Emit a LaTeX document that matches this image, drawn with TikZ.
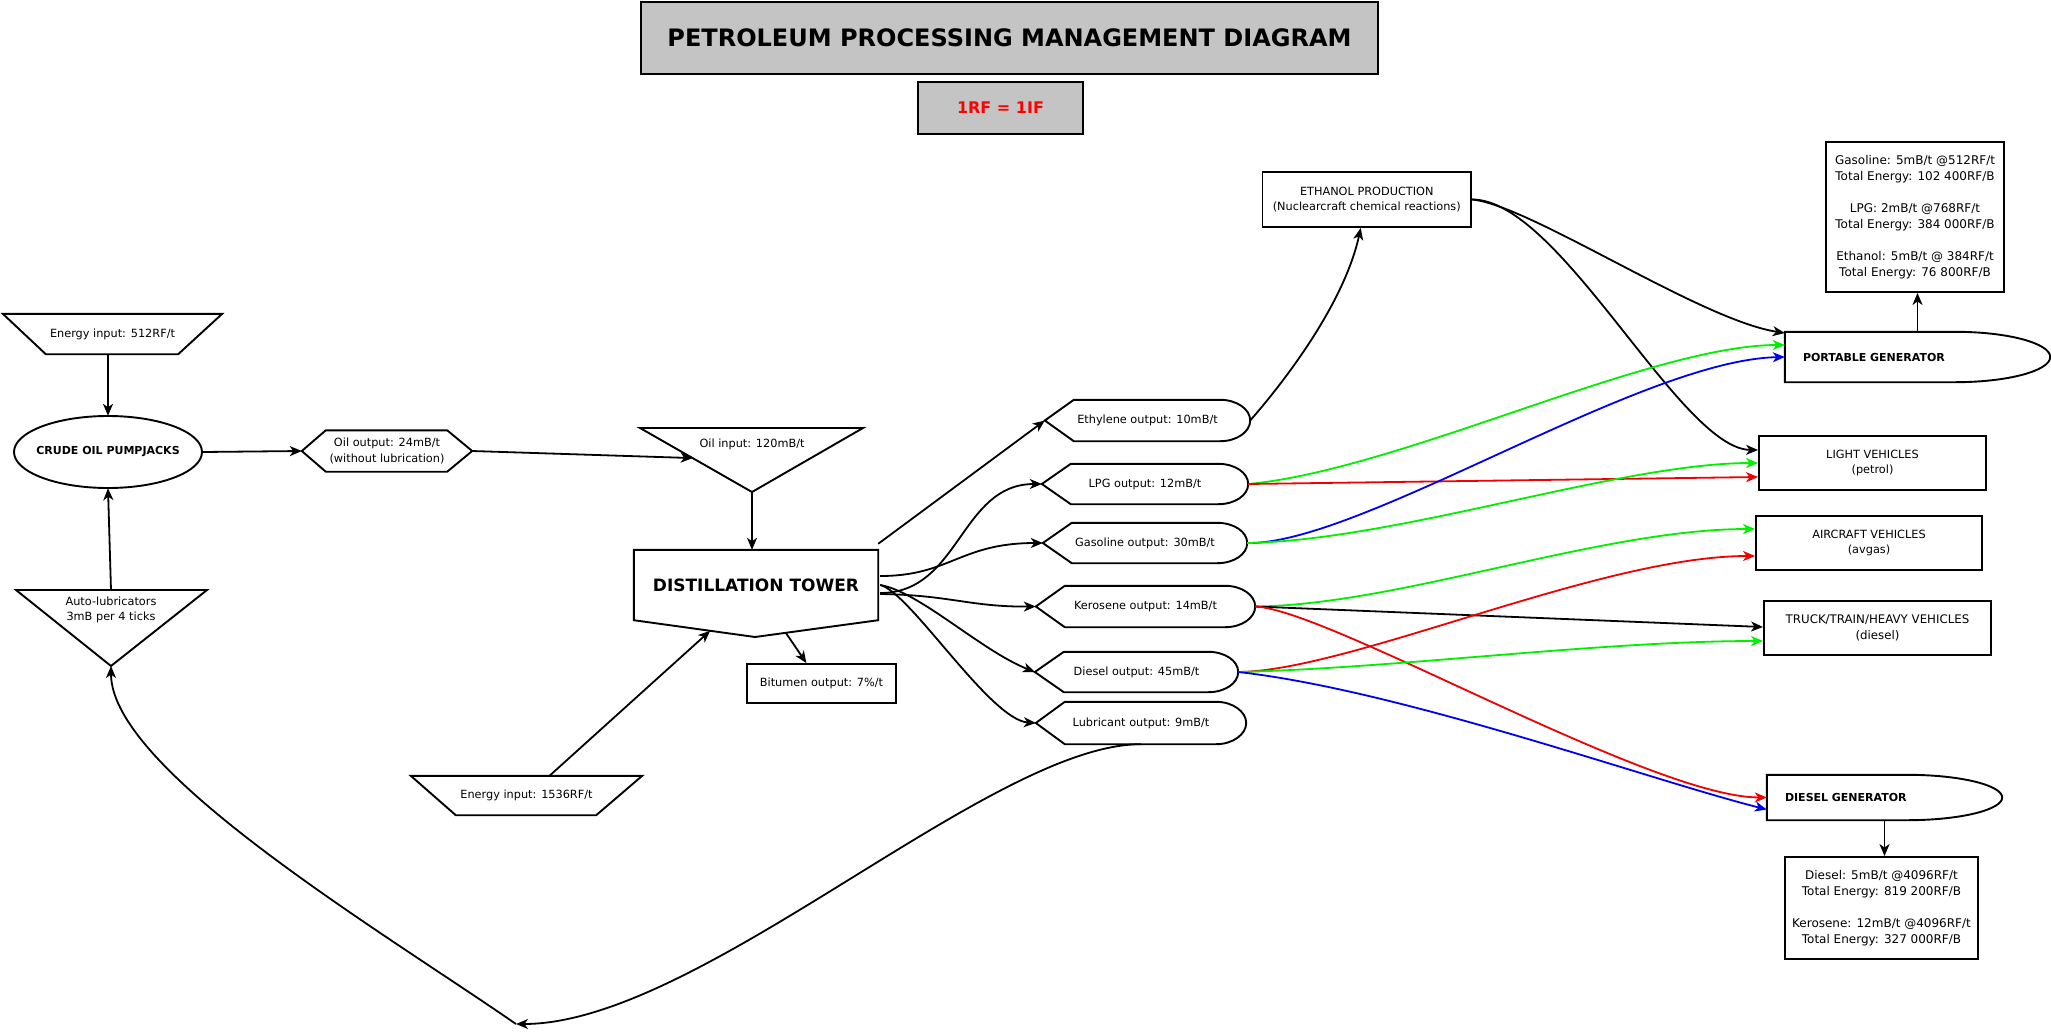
\documentclass[tikz,border=0pt]{standalone}
\usepackage{fontspec}
\setmainfont{DejaVu Sans}
\usetikzlibrary{calc,arrows.meta,shapes.geometric}
\definecolor{titlegray}{RGB}{196,196,196}
\definecolor{lgreen}{RGB}{0,240,0}
\definecolor{lblue}{RGB}{0,0,240}
\definecolor{lred}{RGB}{240,0,0}
\newcommand{\DispOutline}[1]{\draw[shp] (#1.west) -- ($(#1.north west)+(29,0)$) -- ($(#1.north east)+(-30,0)$) .. controls ($(#1.north east)+(-13.4,0)$) and ($(#1.east)+(0,-11.3)$) .. (#1.east) .. controls ($(#1.east)+(0,11.3)$) and ($(#1.south east)+(-13.4,0)$) .. ($(#1.south east)+(-30,0)$) -- ($(#1.south west)+(29,0)$) -- cycle;}
\newcommand{\GenOutline}[3]{\draw[shp] (#1.north west) -- ($(#1.north east)+(-#2,0)$) .. controls ($(#1.north east)+({-0.4477*#2},0)$) and ($(#1.east)+(0,-#3)$) .. (#1.east) .. controls ($(#1.east)+(0,#3)$) and ($(#1.south east)+({-0.4477*#2},0)$) .. ($(#1.south east)+(-#2,0)$) -- (#1.south west) -- cycle;}
\tikzset{
  shp/.style={line width=1.9pt, line join=miter},
  plain/.style={inner sep=0pt, align=center},
  box/.style={draw, line width=1.9pt, rectangle, inner sep=0pt, align=center},
  boldlbl/.style={font=\fontsize{11}{13}\selectfont\bfseries},
  infofont/.style={font=\fontsize{12}{16}\selectfont},
  arr/.style={line width=1.8pt, -{Stealth[length=12pt,width=10pt,inset=3.5pt]}},
  gr/.style={draw=lgreen, -{Stealth[length=12pt,width=10pt,inset=3.5pt,fill=lgreen]}},
  bl/.style={draw=lblue},
  rd/.style={draw=lred},
}
\begin{document}
\begin{tikzpicture}[x=1pt,y=-1pt, font=\fontsize{11.3}{15.5}\selectfont]
\useasboundingbox[fill=white] (0,0) rectangle (2051,1031);

% title
\node[box, fill=titlegray, minimum width=737, minimum height=72, font=\fontsize{24}{28}\selectfont\bfseries] (title) at (1009.5,38) {PETROLEUM PROCESSING MANAGEMENT DIAGRAM};
\node[box, fill=titlegray, minimum width=165, minimum height=52, text=red, font=\fontsize{16}{19}\selectfont\bfseries] (rf) at (1000.5,108) {1RF = 1IF};

% left part
\node[plain, minimum width=219, minimum height=40] (e512) at (112.5,334) {Energy input: 512RF/t};
\draw[shp] (e512.north west) -- (e512.north east) -- ($(e512.south east)+(-44,0)$) -- ($(e512.south west)+(43,0)$) -- cycle;

\node[plain, minimum width=188, minimum height=72, boldlbl] (pump) at (108,452) {CRUDE OIL PUMPJACKS};
\draw[shp] (pump.center) ellipse [x radius=94, y radius=36];

\node[plain, minimum width=170, minimum height=41] (oilout) at (387,451) {Oil output: 24mB/t\\(without lubrication)};
\draw[shp] (oilout.west) -- ($(oilout.north west)+(24,0)$) -- ($(oilout.north east)+(-25,0)$) -- (oilout.east) -- ($(oilout.south east)+(-25,0)$) -- ($(oilout.south west)+(24,0)$) -- cycle;

\coordinate (oilinL) at (640,428);
\coordinate (oilinR) at (863,428);
\coordinate (oilintip) at (752,492);
\draw[shp] (oilinL) -- (oilinR) -- (oilintip) -- cycle;
\node[plain] (oilin) at (752,444) {Oil input: 120mB/t};

\coordinate (alL) at (16,590);
\coordinate (alR) at (207,590);
\coordinate (altip) at (111,666);
\draw[shp] (alL) -- (alR) -- (altip) -- cycle;
\node[plain] (autolub) at (111,610) {Auto-lubricators\\3mB per 4 ticks};

% tower
\node[plain, minimum width=244, minimum height=70, font=\fontsize{17}{20}\selectfont\bfseries] (tower) at (756,585) {DISTILLATION TOWER};
\coordinate (towtip) at (755,637);
\draw[shp] (tower.south west) -- (tower.north west) -- (tower.north east) -- (tower.south east) -- (towtip) -- cycle;

\node[box, minimum width=149, minimum height=39] (bit) at (821.5,683.5) {Bitumen output: 7\%/t};

\node[plain, minimum width=231, minimum height=39] (e1536) at (526.5,795.5) {Energy input: 1536RF/t};
\draw[shp] (e1536.north west) -- (e1536.north east) -- ($(e1536.south east)+(-46,0)$) -- ($(e1536.south west)+(45,0)$) -- cycle;

% outputs
\node[plain, minimum width=205, minimum height=41] (ethy) at (1147.5,420.5) {Ethylene output: 10mB/t};
\DispOutline{ethy}
\node[plain, minimum width=206, minimum height=40] (lpg) at (1145,484) {LPG output: 12mB/t};
\DispOutline{lpg}
\node[plain, minimum width=204, minimum height=40] (gas) at (1145,543) {Gasoline output: 30mB/t};
\DispOutline{gas}
\node[plain, minimum width=219, minimum height=41] (kero) at (1145.5,606.5) {Kerosene output: 14mB/t};
\DispOutline{kero}
\node[plain, minimum width=203, minimum height=40] (dies) at (1136.5,672) {Diesel output: 45mB/t};
\DispOutline{dies}
\node[plain, minimum width=210, minimum height=42] (lub) at (1141,723) {Lubricant output: 9mB/t};
\DispOutline{lub}

% right side
\node[box, minimum width=208.5, minimum height=55] (eth) at (1366.75,199.5) {ETHANOL PRODUCTION\\(Nuclearcraft chemical reactions)};

\node[plain, minimum width=265, minimum height=50, text width=229, inner xsep=18pt, align=left, boldlbl] (pg) at (1917.5,357) {PORTABLE GENERATOR};
\GenOutline{pg}{95}{13.8}

\node[box, infofont, minimum width=178, minimum height=150] (pginfo) at (1915,217) {Gasoline: 5mB/t @512RF/t\\Total Energy: 102 400RF/B\\[16pt]LPG: 2mB/t @768RF/t\\Total Energy: 384 000RF/B\\[16pt]Ethanol: 5mB/t @ 384RF/t\\Total Energy: 76 800RF/B};

\node[box, minimum width=227, minimum height=54] (lv) at (1872.5,463) {LIGHT VEHICLES\\(petrol)};
\node[box, minimum width=226, minimum height=54] (ac) at (1869,543) {AIRCRAFT VEHICLES\\(avgas)};
\node[box, minimum width=227, minimum height=54, font=\fontsize{11.8}{15.5}\selectfont] (tr) at (1877.5,628) {TRUCK/TRAIN/HEAVY VEHICLES\\(diesel)};

\node[plain, minimum width=235, minimum height=45, text width=199, inner xsep=18pt, align=left, boldlbl] (dg) at (1884.5,797.5) {DIESEL GENERATOR};
\GenOutline{dg}{95}{12.4}

\node[box, infofont, minimum width=193, minimum height=102] (dginfo) at (1881.5,908) {Diesel: 5mB/t @4096RF/t\\Total Energy: 819 200RF/B\\[16pt]Kerosene: 12mB/t @4096RF/t\\Total Energy: 327 000RF/B};

% connectors left
\draw[arr] (pump.north |- e512.south) -- (pump.north);
\draw[arr] (autolub.north |- alL) -- (pump.south);
\draw[arr] (pump.east) -- (oilout.west);
\draw[arr] (oilout.east) -- ($(oilinL)!0.47!(oilintip)$);
\draw[arr] (oilintip) -- (oilintip |- tower.north);
\draw[arr] ($(e1536.north)+(23,0)$) -- ($(tower.south west)!0.63!(towtip)$);
\draw[arr] ($(towtip)!0.25!(tower.south east)$) -- ($(bit.north west)!0.4!(bit.north east)$);

% tower to outputs
\draw[arr] ($(tower.north east)+(0,-6)$) -- (ethy.west);
\draw[arr] ($(tower.east)+(2,8)$) .. controls (960,593) and (960,484) .. (lpg.west);
\draw[arr] ($(tower.east)+(2,-9)$) .. controls (950,576) and (960,543) .. (gas.west);
\draw[arr] ($(tower.east)+(2,9)$) .. controls (950,595) and (970,607) .. (kero.west);
\draw[arr] ($(tower.east)+(2,0)$) .. controls (920,592) and (980,650) .. (dies.west);
\draw[arr] ($(tower.east)+(2,0)$) .. controls (910,592) and (990,720) .. (lub.west);

% ethylene to ethanol, ethanol out
\draw[arr] (ethy.east) .. controls (1290,375) and (1345,300) .. ($(eth.south)+(-6,0)$);
\draw[arr] (eth.east) .. controls (1530,205) and (1700,320) .. ($(pg.west)+(0,-24)$);
\draw[arr] (eth.east) .. controls (1560,199) and (1680,449) .. ($(lv.west)+(0,-13)$);

% coloured fuel lines
\draw[arr, gr] (lpg.east) .. controls (1400,470) and (1650,345) .. ($(pg.west)+(0,-12)$);
\draw[arr, rd] (lpg.east) -- ($(lv.west)+(0,14)$);
\draw[arr, bl] (gas.east) .. controls (1360,545) and (1640,360) .. (pg.west);
\draw[arr, gr] (gas.east) .. controls (1400,540) and (1620,463) .. (lv.west);
\draw[arr, gr] (kero.east) .. controls (1400,605) and (1600,529) .. ($(ac.west)+(0,-14)$);
\draw[arr] (kero.east) -- ($(tr.west)+(0,-1)$);
\draw[arr, rd] (kero.east) .. controls (1330,610) and (1650,797) .. (dg.west);
\draw[arr, rd] (dies.east) .. controls (1350,671) and (1600,556) .. ($(ac.west)+(0,13)$);
\draw[arr, gr] (dies.east) .. controls (1400,668) and (1600,641) .. ($(tr.west)+(0,13)$);
\draw[arr, bl] (dies.east) .. controls (1400,690) and (1650,780) .. ($(dg.west)+(0,12)$);

% generators to info
\draw[arr] (pg.north) -- (pg.north |- pginfo.south);
\draw[arr] (dg.south) -- (dg.south |- dginfo.north);

% lubricant loop
\coordinate (J) at (516,1024);
\draw[arr] (lub.south) .. controls (990,744) and (700,1024) .. (J);
\draw[arr] (J) .. controls (380,930) and (111,770) .. (altip);
\end{tikzpicture}
\end{document}
